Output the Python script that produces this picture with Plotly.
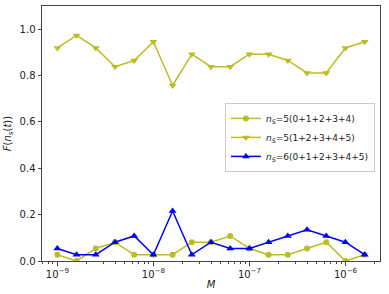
import plotly.graph_objects as go

# x values: M from 1e-9 in steps of 0.2 decade (17 points)
M = [1.0e-9, 1.585e-9, 2.512e-9, 3.981e-9, 6.310e-9,
     1.0e-8, 1.585e-8, 2.512e-8, 3.981e-8, 6.310e-8,
     1.0e-7, 1.585e-7, 2.512e-7, 3.981e-7, 6.310e-7,
     1.0e-6, 1.585e-6]

s1 = [0.027, 0.0, 0.054, 0.081, 0.027, 0.027, 0.027, 0.081, 0.081, 0.108,
      0.054, 0.027, 0.027, 0.054, 0.081, 0.0, 0.027]
s2 = [0.919, 0.973, 0.919, 0.838, 0.865, 0.946, 0.757, 0.892, 0.838, 0.838,
      0.892, 0.892, 0.865, 0.811, 0.811, 0.919, 0.946]
s3 = [0.054, 0.027, 0.027, 0.081, 0.108, 0.027, 0.216, 0.027, 0.081, 0.054,
      0.054, 0.081, 0.108, 0.135, 0.108, 0.081, 0.027]

names = ["<i>n<sub>S</sub></i>=5(0+1+2+3+4)",
         "<i>n<sub>S</sub></i>=5(1+2+3+4+5)",
         "<i>n<sub>S</sub></i>=6(0+1+2+3+4+5)"]

xtickvals = [1e-9, 1e-8, 1e-7, 1e-6]
xticktext = ["10<sup>−9</sup>", "10<sup>−8</sup>", "10<sup>−7</sup>", "10<sup>−6</sup>"]
ytickvals = [0.0, 0.2, 0.4, 0.6, 0.8, 1.0]

olive = "#bcbd22"
fig = go.Figure()
fig.add_trace(go.Scatter(x=M, y=s1, name=names[0], mode="lines+markers",
                         line=dict(color=olive, width=1.5),
                         marker=dict(symbol="circle", size=6, color=olive)))
fig.add_trace(go.Scatter(x=M, y=s2, name=names[1], mode="lines+markers",
                         line=dict(color=olive, width=1.5),
                         marker=dict(symbol="triangle-down", size=7, color=olive)))
fig.add_trace(go.Scatter(x=M, y=s3, name=names[2], mode="lines+markers",
                         line=dict(color="blue", width=1.5),
                         marker=dict(symbol="triangle-up", size=7, color="blue")))

fig.update_layout(
    width=389, height=294,
    margin=dict(l=42, r=9, t=5, b=32),
    paper_bgcolor="white", plot_bgcolor="white",
    font=dict(family="DejaVu Sans", size=10, color="#222"),
    showlegend=True,
    legend=dict(x=0.985, y=0.62, xanchor="right", yanchor="top",
                bordercolor="#ccc", borderwidth=1, bgcolor="rgba(255,255,255,0.8)",
                font=dict(size=9), tracegroupgap=0, itemwidth=30),
)
fig.update_xaxes(type="log", range=[-9.16, -5.64],
                 tickvals=xtickvals, ticktext=xticktext,
                 ticks="outside", ticklen=3.5, tickcolor="#444",
                 showline=True, linecolor="#444", linewidth=1, mirror=True,
                 showgrid=False, zeroline=False,
                 minor=dict(ticks="outside", ticklen=2, tickcolor="#444", dtick="D1", showgrid=False),
                 title=dict(text="<i>M</i>", standoff=2, font=dict(size=10)))
fig.update_yaxes(range=[0, 1.1], tickvals=ytickvals, tickformat=".1f",
                 ticks="outside", ticklen=3.5, tickcolor="#444",
                 showline=True, linecolor="#444", linewidth=1, mirror=True,
                 showgrid=False, zeroline=False,
                 title=dict(text="<i>F</i>(<i>n<sub>s</sub></i>(<i>t</i>))", standoff=6, font=dict(size=10)))

fig.write_html("out.html", config={"displayModeBar": False},
               post_script="document.body.style.margin='0';")
